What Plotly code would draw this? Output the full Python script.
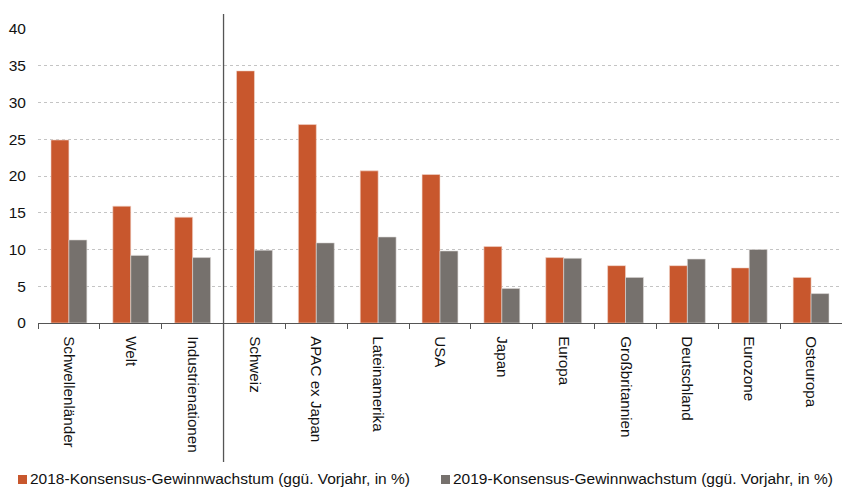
import plotly.graph_objects as go

categories = ["Schwellenländer", "Welt", "Industrienationen", "Schweiz", "APAC ex Japan",
              "Lateinamerika", "USA", "Japan", "Europa", "Großbritannien",
              "Deutschland", "Eurozone", "Osteuropa"]
growth_2018 = [24.9, 15.9, 14.4, 34.3, 27.0, 20.7, 20.2, 10.4, 8.9, 7.8, 7.8, 7.5, 6.2]
growth_2019 = [11.3, 9.2, 8.9, 9.9, 10.9, 11.7, 9.8, 4.7, 8.8, 6.2, 8.7, 10.0, 4.0]
name_2018 = "2018-Konsensus-Gewinnwachstum (ggü. Vorjahr, in %)"
name_2019 = "2019-Konsensus-Gewinnwachstum (ggü. Vorjahr, in %)"
y_ticks = [0, 5, 10, 15, 20, 25, 30, 35, 40]

ORANGE = "#C8572D"
GREY = "#76716D"
FONT = "Liberation Sans, Arial, sans-serif"

W, H = 842, 488
M_L, M_R, M_T, M_B = 38, 0, 29, 165
PW, PH = W - M_L - M_R, H - M_T - M_B


def px_x(x):
    """Pixel column -> paper x."""
    return (x - M_L) / PW


def px_y(y):
    """Pixel row -> paper y."""
    return (H - M_B - y) / PH


fig = go.Figure()
fig.add_trace(go.Bar(x=categories, y=growth_2018, name=name_2018, showlegend=False,
                     marker=dict(color=ORANGE, line=dict(color="#F2D9CF", width=0.6))))
fig.add_trace(go.Bar(x=categories, y=growth_2019, name=name_2019, showlegend=False,
                     marker=dict(color=GREY, line=dict(color="#DDDAD8", width=0.6))))

# Divider between aggregate regions and single markets
n_left = 3
fig.add_shape(type="line", xref="paper", yref="paper",
              x0=n_left / len(categories), x1=n_left / len(categories),
              y0=px_y(462), y1=px_y(14), line=dict(color="#555555", width=1.3))

# Legend row along the bottom edge
legend_items = [(name_2018, ORANGE, 18), (name_2019, GREY, 441)]
for label, color, left in legend_items:
    fig.add_shape(type="rect", xref="paper", yref="paper",
                  x0=px_x(left), x1=px_x(left + 9), y0=px_y(484), y1=px_y(475),
                  fillcolor=color, line=dict(width=0))
    fig.add_annotation(text=label, xref="paper", yref="paper",
                       x=px_x(left + 11), y=px_y(478.5), xanchor="left", yanchor="middle",
                       showarrow=False, borderpad=0,
                       font=dict(family=FONT, size=15.5, color="#111111"))

fig.update_layout(
    width=W, height=H,
    margin=dict(l=M_L, r=M_R, t=M_T, b=M_B, pad=0),
    paper_bgcolor="white", plot_bgcolor="white",
    barmode="group", bargap=0.42, bargroupgap=0,
    font=dict(family=FONT, size=15, color="#111111"),
    xaxis=dict(type="category", tickson="boundaries", ticks="outside", ticklen=5,
               tickcolor="#555555", showline=True, linecolor="#555555", linewidth=1.3,
               tickangle=90, showgrid=False, automargin=False, ticklabelstandoff=9,
               tickfont=dict(family=FONT, size=15.2, color="#111111")),
    yaxis=dict(range=[0, 40], tickvals=y_ticks, showline=False, zeroline=False,
               showgrid=True, gridcolor="#C4C4C4", griddash="dot", gridwidth=1,
               ticks="outside", ticklen=8, tickcolor="rgba(0,0,0,0)", automargin=False,
               tickfont=dict(family=FONT, size=15.5, color="#111111")),
)

fig.write_html("out.html")
